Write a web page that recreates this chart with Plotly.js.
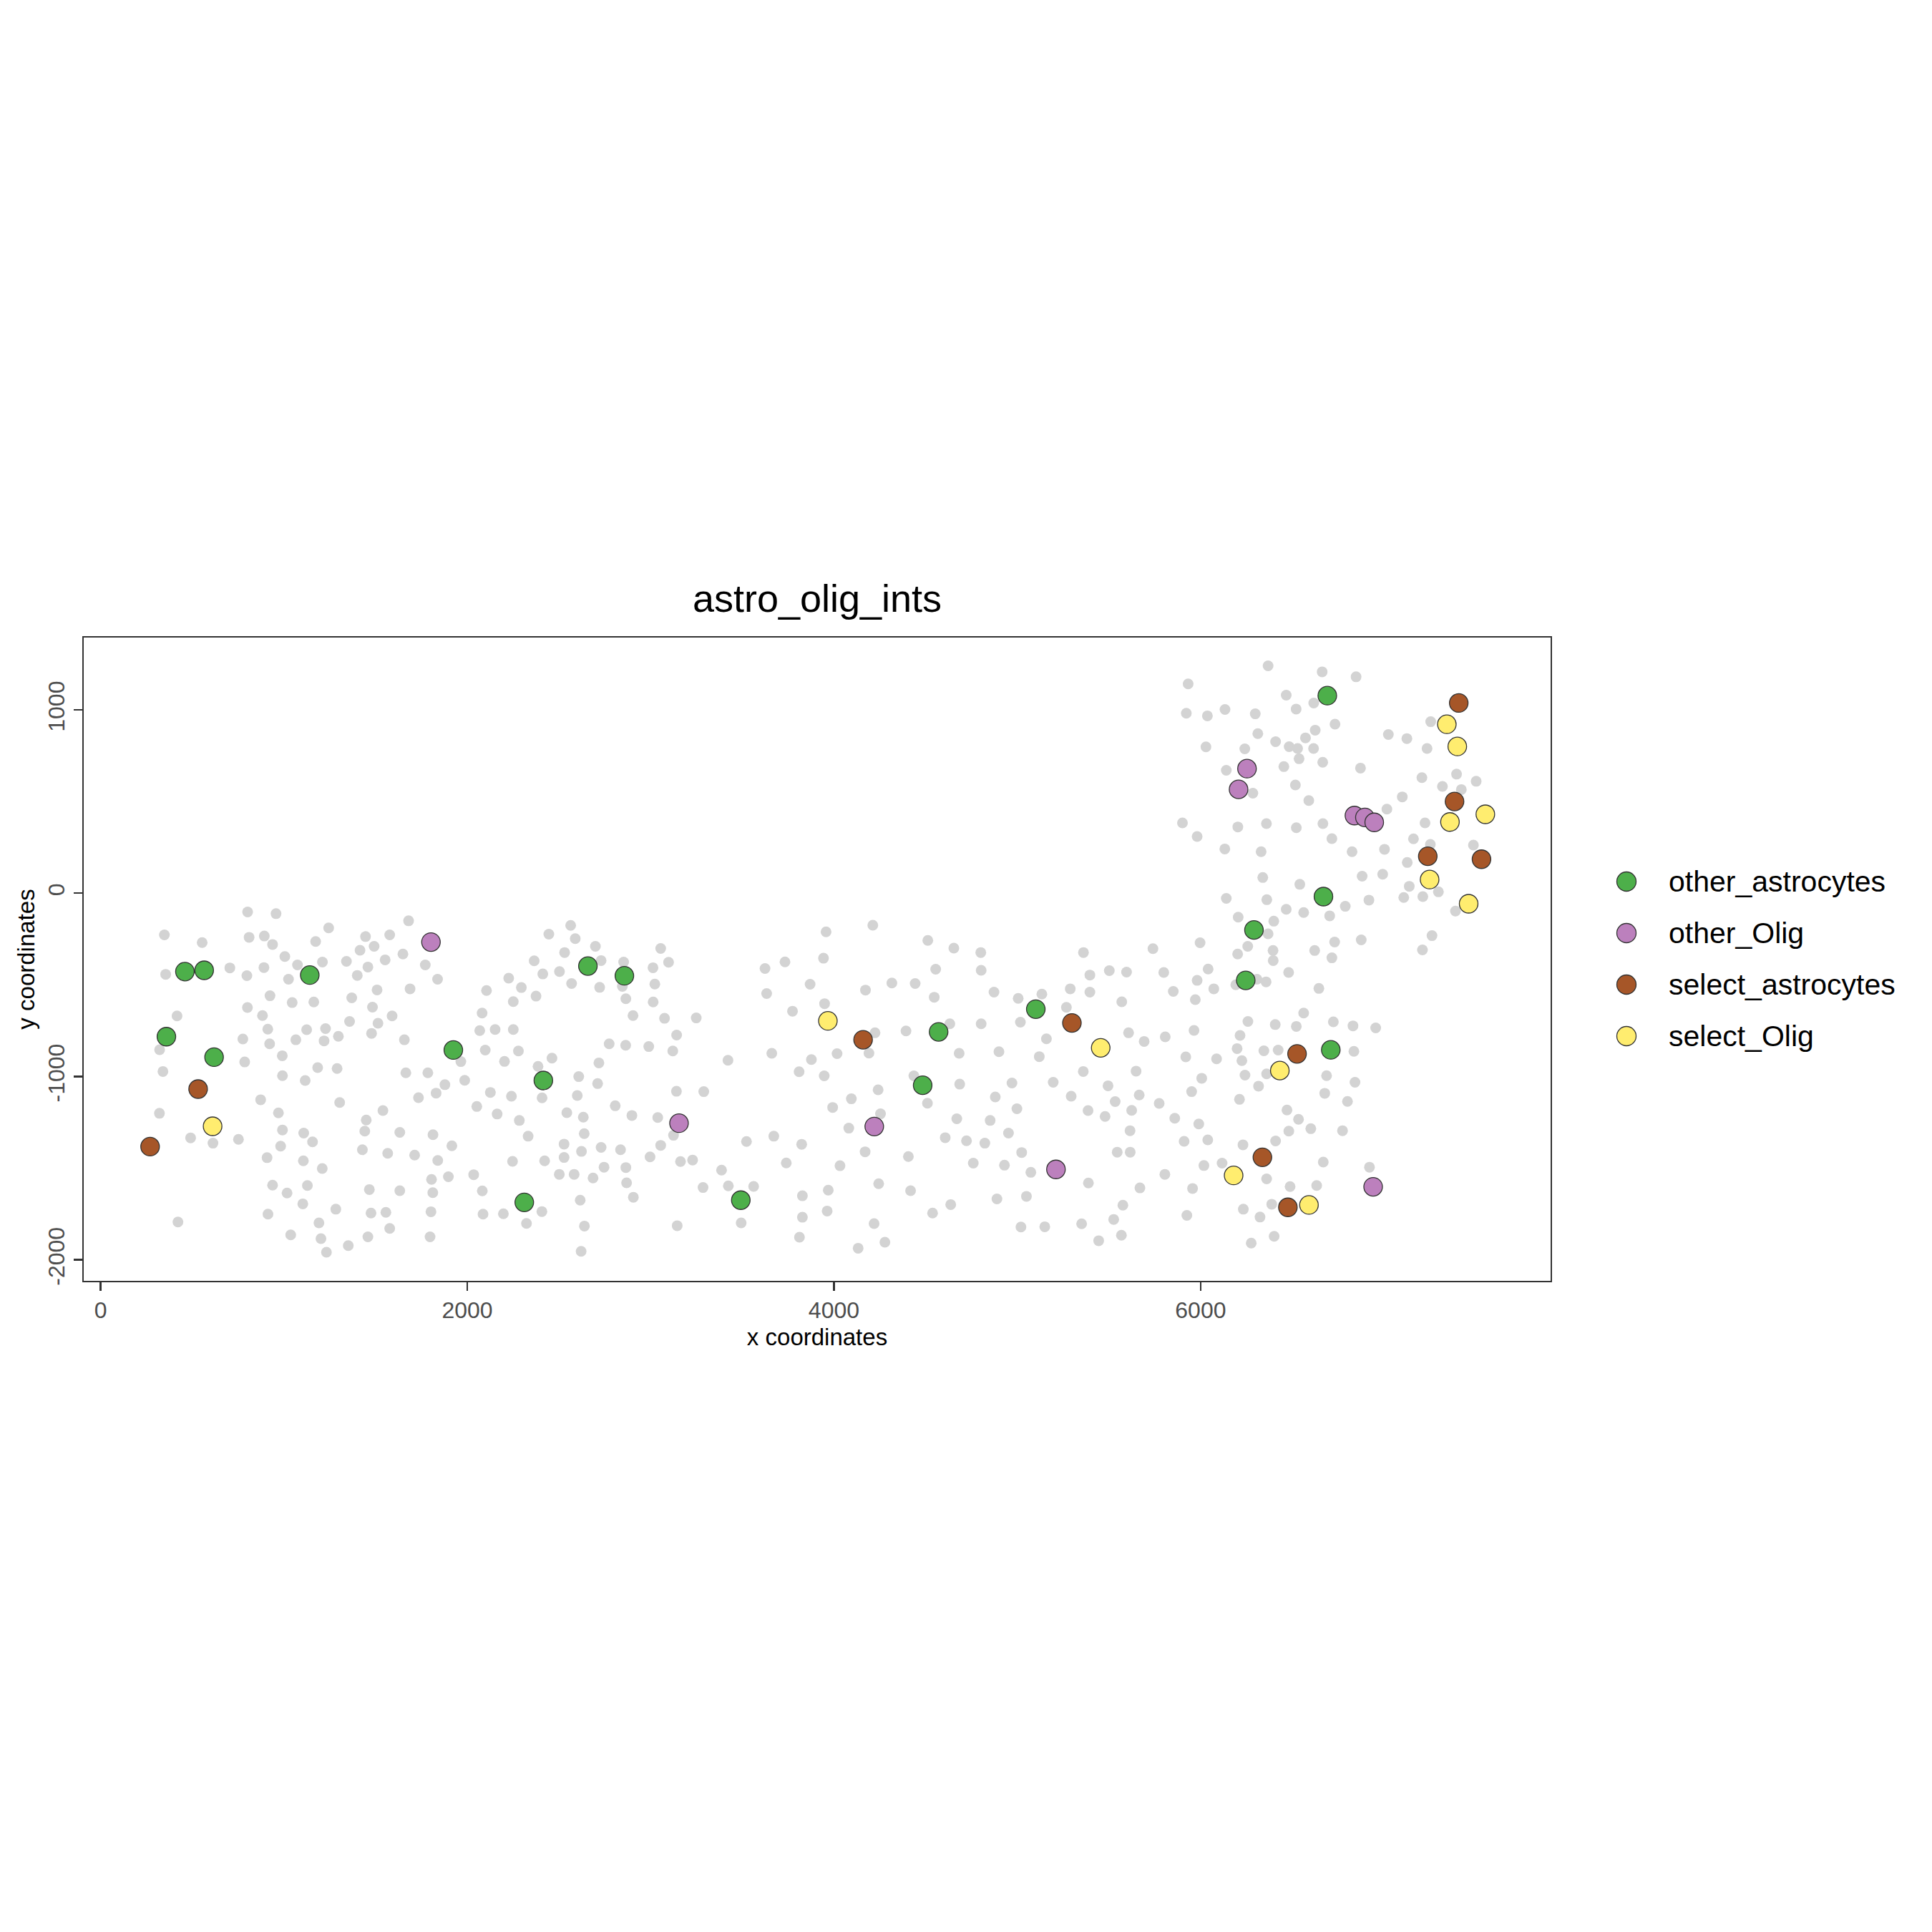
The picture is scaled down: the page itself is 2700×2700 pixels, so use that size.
<!DOCTYPE html>
<html>
<head>
<meta charset="utf-8">
<script src="https://cdn.plot.ly/plotly-3.0.1.min.js"></script>
<style>html,body{margin:0;padding:0;background:#ffffff;}#chart{width:2700px;height:2700px;}</style>
</head>
<body>
<div id="chart"></div>
<script>
// ---------------- DATA ----------------
const chartTitle = "astro_olig_ints";
const xAxisTitle = "x coordinates";
const yAxisTitle = "y coordinates";
const categories = ["other_astrocytes", "other_Olig", "select_astrocytes", "select_Olig"];
const categoryColors = ["#4DAF4A", "#BC80BD", "#A65628", "#FFED6F"];
const backgroundColor = "#D3D3D3";

const xTickVals = [0, 2000, 4000, 6000];
const xTickText = ["0", "2000", "4000", "6000"];
const yTickVals = [-2000, -1000, 0, 1000];
const yTickText = ["-2000", "-1000", "0", "1000"];

// all other (background) cells
const bgX = [
  348,554,802,957,810,893,938,1173,1244,1445,1492,1415,1577,1680,1649,
  2564,2445,2589,2699,2531,3055,
  3957,4212,4512,4654,4801,5361,5740,
  6368,6663,6848,5932,6467,6617,6521,5922,6037,6133,
  6298,6733,7255,6312,6409,6625,6572,6483,6529,6616,
  7024,7125,7235,6029,6241,6537,6666,6454,6140,6872,
  7207,7396,7503,7319,7422,6517,6285,6590,7100,7016,
  5901,5981,6203,6359,6522,6667,6716,7224,7161,7253,
  7488,6132,6330,6826,7003,7127,6339,6541,6881,6993,
  7138,7297,7108,7212,6140,6361,6467,6562,6704,6789,
  6918,7390,6205,6399,6368,5997,6257,6202,6395,6622,
  6731,6876,7262,7210,
  1005,1074,1210,1341,1552,1458,1400,1771,1838,1688,
  1508,1370,1483,1590,1513,1358,1478,1297,1227,1219,
  1124,1065,991,922,912,883,801,924,1025,1045,
  1163,891,798,705,355,417,322,340,776,786,
  992,1116,1184,1290,1657,1665,1785,1878,1830,1734,
  1304,873,970,1540,1449,1441,1632,1813,1916,992,
  1108,1156,982,908,1428,1566,1713,1839,1106,1209,
  1805,1897,938,1017,1128,1466,1632,1812,1103,1283,
  913,1475,1556,1802,1191,1577,1037,1202,1458,1797,
  1351,1232,321,491,613,752,422,
  2365,2730,2853,3098,3624,3733,2226,2412,2503,2569,
  2722,2846,3013,3023,2105,2295,2375,2251,2865,3014,
  2081,2904,3076,3249,3633,3870,3774,2068,2152,2251,
  3142,2774,2864,2990,3121,3422,3661,3877,3810,2098,
  2279,1965,2203,2386,2462,2718,1986,2608,2711,2126,
  2241,2408,2600,3141,3290,2052,2163,2284,2543,2633,
  2807,2898,3039,2332,2638,3125,2528,2623,2730,2836,
  3055,2997,3163,3229,3523,3672,3824,3740,2247,2422,
  2528,2035,2502,2583,2686,2746,2865,2869,3387,2082,
  3286,3424,3562,2616,2906,3828,2086,2197,2407,2323,
  2639,3145,3494,3828,3812,2621,
  3943,4555,4803,4316,4443,4172,4547,4873,3949,5005,
  5134,5289,5396,5502,5596,5799,5396,5851,5570,5268,
  5017,4803,4632,4393,4224,4191,4017,4683,4900,5159,
  5120,5607,5692,5807,3947,4436,4686,4971,5196,5360,
  5648,5495,4241,4095,3993,4254,4081,4510,4880,4998,
  5294,5534,5665,5774,5386,5479,5624,5859,4670,4852,
  5615,4607,4723,4823,4952,4170,4406,4033,4760,4930,
  5024,5074,5545,5616,5388,5805,5669,3969,4244,4418,
  4889,5050,5576,5526,3963,4637,4538,4219,5020,5150,
  5351,5568,5444,4132,4278,
  6396,6716,6041,6480,5981,6072,6192,6307,6357,6645,
  5971,6562,6258,6407,6522,6724,6831,6955,5964,6215,
  6199,6345,6423,5919,6087,6225,6836,6006,6242,6360,
  6687,6842,5951,6316,6212,6677,6801,5990,6471,6534,
  6601,6481,6774,5910,6039,6231,6409,6018,6117,6669,
  6921,6360,6488,6633,5956,5925,6233,6324,6388,6401,
  6276
];
const bgY = [
  -228,-270,-103,-112,-241,-234,-280,-264,-190,-237,-290,-312,-228,-151,-332,
  -176,-224,-248,-290,-324,-302,
  -211,-175,-258,-300,-324,-324,-303,
  1240,1207,1180,1141,1080,1037,1004,981,967,1002,
  978,922,935,870,826,889,847,799,789,789,
  865,843,789,798,787,733,714,690,670,682,
  630,649,610,582,565,590,545,505,525,458,
  383,309,361,379,357,379,297,383,296,266,
  262,241,226,226,239,167,85,48,92,103,
  37,7,-24,-19,-29,-36,-88,-106,-124,-72,
  -38,-98,-131,-153,-222,-271,-290,-332,-313,-313,
  -267,-255,-232,-310,
  -346,-392,-376,-372,-364,-403,-449,-392,-470,-522,
  -528,-571,-622,-670,-710,-700,-765,-781,-739,-806,
  -745,-800,-887,-822,-742,-668,-624,-560,-470,-597,
  -594,-406,-450,-408,-443,-670,-854,-973,-796,-921,
  -996,-1022,-952,-957,-800,-980,-980,-1045,-1091,-1116,
  -1142,-1127,-1199,-1186,-1238,-1298,-1305,-1318,-1378,-1292,
  -1309,-1357,-1380,-1443,-1400,-1419,-1429,-1458,-1460,-1502,
  -1562,-1547,-1593,-1636,-1595,-1617,-1623,-1634,-1695,-1724,
  -1751,-1745,-1741,-1738,-1799,-1829,-1864,-1885,-1875,-1875,
  -1923,-1959,-1201,-1335,-1364,-1343,-1794,
  -369,-368,-376,-377,-411,-375,-464,-441,-428,-493,
  -514,-509,-407,-496,-531,-515,-562,-592,-576,-594,
  -654,-668,-683,-681,-548,-497,-644,-750,-744,-744,
  -774,-822,-830,-837,-861,-912,-874,-908,-974,-856,
  -861,-919,-918,-945,-900,-926,-1021,-1001,-1039,-1087,
  -1108,-1117,-1104,-1081,-1083,-1164,-1205,-1240,-1198,-1222,
  -1160,-1213,-1224,-1326,-1312,-1321,-1369,-1409,-1387,-1400,
  -1376,-1439,-1464,-1456,-1355,-1326,-1370,-1472,-1463,-1460,
  -1442,-1536,-1534,-1534,-1554,-1495,-1497,-1580,-1511,-1624,
  -1606,-1597,-1600,-1675,-1659,-1651,-1751,-1749,-1737,-1802,
  -1816,-1814,-1799,-1768,-1877,-1954,
  -355,-415,-421,-490,-493,-529,-568,-540,-603,-574,
  -551,-522,-447,-423,-431,-433,-540,-536,-593,-623,
  -704,-713,-713,-752,-762,-873,-876,-874,-865,-795,
  -892,-762,-809,-784,-997,-997,-1042,-1036,-1032,-973,
  -971,-1051,-1073,-1122,-1169,-1204,-1282,-1146,-1112,-1176,
  -1108,-1137,-1101,-1147,-1186,-1218,-1185,-1228,-1231,-1240,
  -1296,-1334,-1351,-1364,-1309,-1411,-1437,-1487,-1473,-1484,
  -1415,-1523,-1413,-1413,-1581,-1534,-1608,-1620,-1585,-1623,
  -1668,-1654,-1702,-1780,-1734,-1699,-1745,-1803,-1821,-1820,
  -1804,-1866,-1896,-1937,-1904,
  -368,-353,-414,-433,-476,-522,-500,-470,-484,-520,
  -581,-654,-700,-717,-727,-702,-724,-735,-749,-776,
  -848,-860,-856,-893,-904,-914,-863,-1010,-993,-986,
  -996,-1032,-1083,-1053,-1125,-1092,-1136,-1259,-1183,-1234,
  -1285,-1298,-1296,-1354,-1346,-1373,-1352,-1486,-1473,-1467,
  -1495,-1559,-1601,-1595,-1611,-1758,-1724,-1767,-1697,-1872,
  -1909
];

// highlighted groups
const otherAstroX = [460,565,1141,359,619,1924,2415,2658,2857,2311,3492,4571,5101,4484,6691,6670,6291,6246,6710];
const otherAstroY = [-428,-421,-447,-783,-895,-856,-1022,-398,-451,-1687,-1675,-757,-633,-1048,1077,-19,-201,-476,-855];
const otherOligX = [1802,3155,4220,5211,6253,6207,6839,6896,6947,6941];
const otherOligY = [-267,-1255,-1273,-1507,679,566,423,413,386,-1602];
const selectAstroX = [532,270,4159,5298,7408,7385,7239,7532,6526,6337,6476];
const selectAstroY = [-1069,-1383,-800,-708,1037,500,201,185,-877,-1441,-1714];
const selectOligX = [611,3967,5455,7343,7400,7360,7553,7249,7462,6432,6180,6591];
const selectOligY = [-1272,-697,-844,921,800,388,430,74,-58,-968,-1540,-1701];

// ---------------- CHART ----------------
const groupX = [otherAstroX, otherOligX, selectAstroX, selectOligX];
const groupY = [otherAstroY, otherOligY, selectAstroY, selectOligY];

const FONT = "Liberation Sans, Arial, Helvetica, sans-serif";
const W = 2700, H = 2700;
const M = {l: 117, r: 533, t: 891, b: 910};
const plotW = W - M.l - M.r, plotH = H - M.t - M.b;

const traces = [{
  type: "scatter", mode: "markers", x: bgX, y: bgY, name: "background",
  marker: {size: 15, color: backgroundColor, line: {width: 0}},
  showlegend: false, hoverinfo: "skip"
}];
categories.forEach((c, i) => {
  traces.push({
    type: "scatter", mode: "markers", name: c, x: groupX[i], y: groupY[i],
    marker: {size: 26, color: categoryColors[i], line: {width: 1.3, color: "#333333"}},
    showlegend: false
  });
});

// legend drawn as keys + labels (pixel-sized keys)
const legKeyPx = 2273, legTextPx = 2330, legTopPx = 1232, legStepPx = 72;
const shapes = [], annotations = [];
categories.forEach((c, i) => {
  const py = legTopPx + i * legStepPx;
  const yp = (H - M.b - py) / plotH;
  shapes.push({
    type: "circle", xref: "paper", yref: "paper",
    xsizemode: "pixel", ysizemode: "pixel",
    xanchor: (legKeyPx - M.l) / plotW, yanchor: yp,
    x0: -13.5, x1: 13.5, y0: -13.5, y1: 13.5,
    fillcolor: categoryColors[i], line: {color: "#333333", width: 1.3}
  });
  annotations.push({
    xref: "paper", yref: "paper", x: (legTextPx - M.l) / plotW, y: yp,
    xanchor: "left", yanchor: "middle", showarrow: false, text: c,
    font: {family: FONT, size: 41, color: "#000000"}
  });
});

const axisCommon = {
  showgrid: false, zeroline: false, showline: true, mirror: true,
  linecolor: "#333333", linewidth: 2,
  ticks: "outside", ticklen: 12, tickwidth: 2.5, tickcolor: "#333333",
  tickfont: {family: FONT, size: 32, color: "#4D4D4D"},
  automargin: false, fixedrange: true
};

const layout = {
  width: W, height: H,
  margin: M,
  paper_bgcolor: "#ffffff", plot_bgcolor: "#ffffff",
  font: {family: FONT},
  showlegend: false,
  title: {
    text: chartTitle, font: {family: FONT, size: 54, color: "#000000"},
    xref: "paper", x: 0.5, xanchor: "center",
    yref: "container", y: 1 - 836 / H, yanchor: "middle"
  },
  xaxis: Object.assign({}, axisCommon, {
    range: [-92, 7909], tickvals: xTickVals, ticktext: xTickText,
    title: {text: xAxisTitle, font: {family: FONT, size: 33, color: "#000000"}, standoff: 9}
  }),
  yaxis: Object.assign({}, axisCommon, {
    range: [-2115, 1394], tickvals: yTickVals, ticktext: yTickText, tickangle: -90,
    title: {text: yAxisTitle, font: {family: FONT, size: 33, color: "#000000"}, standoff: 3}
  }),
  shapes: shapes,
  annotations: annotations
};

Plotly.newPlot("chart", traces, layout, {staticPlot: true, displayModeBar: false});
</script>
</body>
</html>
